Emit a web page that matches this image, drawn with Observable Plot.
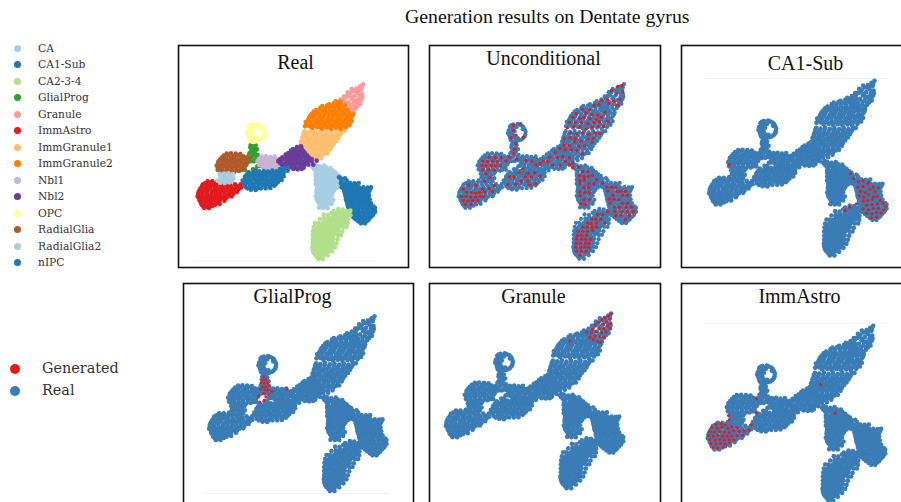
<!DOCTYPE html>
<html><head><meta charset="utf-8">
<script src="https://cdn.jsdelivr.net/npm/d3@7"></script>
<script src="https://cdn.jsdelivr.net/npm/@observablehq/plot@0.6"></script>
<style>
html,body{margin:0;padding:0;background:#fff}
#page{position:relative;width:901px;height:502px;overflow:hidden;background:#fff}
#page>div{position:absolute}
.panel svg{display:block;max-width:none}
.lg{font-family:"DejaVu Serif",serif;color:#333;white-space:nowrap}
.sw{position:absolute;border-radius:50%}
</style></head><body><div id="page"></div>
<script>
// Embedding coordinates, one array per cell type (x, y with y growing downward)
const Granule=[[594,121],[585,127],[574,134],[589,136],[566,141],[579,146],[591,150],[556,147],[569,155],[583,159],[546,157],[559,164],[573,169],[590,165],[538,165],[551,175],[565,180],[579,177],[533,176],[545,187],[558,192],[572,193],[529,189],[540,199],[553,204],[566,205],[527,200],[585,172],[590,130],[580,137],[560,135],[572,141],[548,145],[586,152],[562,160],[552,154],[578,168],[542,158],[566,170],[536,158],[526,167],[528,180],[592,158],[540,176],[558,184],[572,186],[586,180],[536,192],[546,196],[564,198],[578,186],[534,205],[546,209],[560,212]];
const ImmGranule2=[[492,181],[506,178],[519,176],[466,191],[480,193],[494,190],[509,192],[522,187],[446,203],[459,205],[473,202],[487,206],[501,203],[515,205],[530,200],[435,216],[449,214],[463,218],[477,215],[490,219],[505,216],[518,218],[533,213],[546,214],[429,228],[443,226],[456,230],[471,227],[484,231],[498,228],[512,231],[526,227],[541,226],[555,224],[425,240],[438,241],[453,238],[466,243],[481,240],[494,243],[509,239],[523,242],[536,238],[551,238],[441,252],[456,250],[470,254],[484,251],[498,255],[513,252],[527,255],[543,250],[560,232],[512,172],[526,173],[472,186],[486,185],[500,187],[513,185],[527,182],[540,184],[453,198],[466,197],[480,199],[494,197],[508,198],[522,197],[536,195],[548,198],[440,210],[452,209],[466,211],[480,209],[494,211],[508,210],[522,211],[538,208],[552,207],[564,212],[432,222],[446,220],[460,223],[474,221],[488,224],[502,222],[516,224],[530,221],[546,220],[560,218],[422,234],[436,233],[450,235],[464,233],[478,236],[492,234],[506,236],[520,234],[534,233],[548,232],[420,247],[432,246],[448,245],[462,248],[476,246],[490,248],[504,246],[518,248],[532,246],[546,244],[554,243]];
const ImmGranule1=[[419,262],[432,264],[446,261],[460,265],[474,263],[488,266],[502,263],[516,266],[530,262],[415,275],[428,273],[442,277],[456,274],[470,278],[484,275],[498,278],[512,275],[524,274],[412,287],[426,289],[440,286],[454,290],[468,287],[482,290],[496,287],[510,289],[410,300],[424,298],[438,302],[452,299],[466,302],[480,299],[494,302],[506,299],[408,311],[421,313],[435,310],[449,314],[463,311],[477,314],[491,311],[413,323],[427,325],[441,322],[455,326],[469,323],[483,324],[427,336],[441,335],[456,338],[470,335],[416,268],[430,270],[444,268],[458,270],[472,269],[486,270],[500,269],[514,270],[528,268],[538,262],[412,281],[424,280],[436,282],[450,281],[464,283],[478,281],[492,283],[506,281],[520,282],[408,293],[418,294],[432,293],[446,295],[460,293],[474,295],[488,293],[502,295],[514,291],[404,305],[416,306],[430,305],[444,307],[458,305],[472,307],[486,305],[500,307],[402,317],[414,318],[428,317],[442,318],[456,319],[470,317],[484,318],[496,316],[398,330],[412,330],[434,330],[448,331],[462,332],[478,330],[488,328],[440,343],[452,344],[468,343]];
const Nbl2=[[396,309],[408,307],[378,320],[390,322],[403,320],[416,322],[362,332],[374,334],[387,332],[400,335],[413,332],[426,334],[344,346],[357,344],[370,347],[383,345],[396,348],[409,345],[422,348],[434,346],[346,358],[359,360],[372,357],[385,360],[398,357],[411,360],[424,358],[378,370],[391,372],[404,369],[416,371],[384,315],[396,316],[410,314],[370,327],[382,327],[395,328],[408,327],[420,328],[352,340],[366,340],[379,339],[392,341],[405,340],[418,340],[431,340],[340,352],[350,351],[364,353],[377,352],[390,354],[403,352],[416,354],[429,352],[440,352],[352,364],[365,365],[378,364],[391,365],[404,364],[417,365],[385,375],[398,376],[410,375],[430,362],[445,362],[440,345],[455,350]];
const Nbl1=[[283,344],[296,342],[309,346],[322,344],[333,347],[288,357],[301,355],[314,358],[327,356],[338,360],[294,369],[307,371],[320,368],[333,370],[290,338],[303,337],[316,339],[329,338],[278,350],[291,350],[304,351],[317,351],[330,351],[342,352],[283,363],[296,363],[309,364],[322,362],[335,364],[348,364],[360,366],[300,375],[313,376],[326,375],[340,375],[355,376]];
const OPC=[[262,242],[275,240],[288,246],[296,257],[298,272],[291,284],[278,290],[265,294],[254,288],[250,275],[248,260],[252,248],[262,255],[260,270],[266,282],[272,250],[258,264],[276,283],[290,256],[256,244],[268,246],[281,243],[292,250],[299,264],[296,278],[285,288],[271,292],[258,292],[252,282],[246,268],[254,254],[266,262],[253,270],[262,276],[271,285],[258,248]];
const GlialProg=[[262,300],[256,310],[268,311],[258,322],[270,323],[263,334],[274,338],[253,345],[281,350],[247,356],[266,352],[277,367],[250,385],[264,376],[257,303],[272,304],[263,316],[276,316],[253,328],[266,328],[278,333],[248,338],[260,340],[270,348],[287,356],[240,350],[256,352],[272,376],[268,385],[240,378],[284,366]];
const RadialGlia=[[176,335],[191,333],[206,336],[221,334],[235,337],[165,347],[178,346],[192,349],[206,346],[220,349],[234,346],[248,349],[160,359],[174,358],[188,361],[202,358],[216,361],[230,358],[244,362],[160,371],[172,373],[186,370],[200,373],[214,370],[228,373],[238,370],[166,383],[180,384],[194,382],[208,384],[222,381],[185,329],[198,328],[212,329],[226,330],[170,341],[184,341],[198,342],[212,341],[226,342],[240,341],[254,342],[160,353],[172,352],[185,354],[199,353],[213,354],[227,352],[241,355],[155,365],[167,365],[180,366],[194,365],[208,366],[222,365],[236,366],[158,377],[172,378],[186,377],[200,378],[214,377],[230,378]];
const RadialGlia2=[[171,394],[184,396],[197,393],[172,406],[186,405],[199,407],[166,416],[179,417],[193,415],[164,390],[177,389],[190,388],[204,390],[166,401],[179,401],[193,400],[205,403],[158,410],[172,411],[186,411],[200,412]];
const ImmAstro=[[120,418],[133,416],[146,420],[111,428],[124,430],[137,427],[150,431],[172,430],[186,427],[200,430],[214,427],[227,421],[103,440],[116,441],[129,438],[142,442],[155,439],[168,442],[181,439],[194,442],[207,440],[220,436],[100,452],[113,451],[126,454],[139,451],[152,454],[165,451],[178,454],[191,452],[204,450],[103,464],[116,463],[129,466],[142,463],[155,466],[168,463],[181,464],[108,476],[121,475],[134,478],[147,475],[160,476],[115,487],[128,488],[142,486],[113,422],[127,423],[141,423],[155,424],[168,423],[182,422],[196,423],[210,421],[222,428],[106,434],[120,435],[134,433],[148,435],[162,434],[175,435],[188,434],[201,435],[214,434],[228,431],[100,446],[112,446],[126,447],[140,446],[153,447],[166,446],[179,447],[192,446],[205,445],[216,444],[98,458],[110,458],[123,459],[136,458],[149,459],[162,458],[175,459],[188,458],[200,457],[104,470],[112,470],[125,471],[138,470],[151,471],[164,470],[178,470],[110,482],[122,482],[136,482],[150,482],[164,480],[118,492],[132,492],[128,412],[142,412],[156,414]];
const nIPC=[[270,380],[283,382],[296,381],[309,383],[322,380],[335,382],[348,379],[245,392],[258,394],[271,391],[284,395],[297,392],[310,395],[323,392],[336,394],[350,391],[240,404],[253,406],[266,403],[279,407],[292,404],[305,407],[318,404],[331,406],[345,403],[235,416],[248,415],[261,418],[274,415],[287,418],[300,415],[313,418],[326,415],[339,414],[241,428],[254,429],[267,426],[280,430],[300,426],[315,428],[328,425],[258,437],[272,438],[252,386],[264,387],[277,386],[290,388],[303,387],[316,388],[329,387],[342,388],[356,386],[368,380],[240,398],[252,399],[265,398],[278,400],[291,398],[304,400],[317,398],[330,400],[343,398],[356,397],[233,410],[246,410],[259,411],[272,410],[285,411],[298,410],[311,411],[324,410],[337,409],[350,408],[240,422],[254,422],[267,421],[280,423],[293,422],[307,421],[320,422],[333,420],[247,433],[262,433],[275,434],[288,433],[302,433],[316,432],[345,375],[358,374],[368,372]];
const CA=[[440,366],[452,364],[465,367],[478,365],[450,378],[463,376],[476,379],[489,377],[502,380],[452,390],[465,392],[478,389],[491,392],[504,389],[517,392],[455,402],[468,404],[481,401],[494,404],[507,401],[520,403],[455,414],[468,413],[481,416],[494,413],[507,416],[520,413],[456,426],[469,428],[482,425],[495,428],[508,425],[521,428],[455,438],[468,437],[481,440],[494,437],[507,439],[457,450],[470,452],[483,449],[496,451],[455,462],[468,461],[481,464],[494,461],[460,474],[473,476],[486,473],[499,475],[470,486],[482,487],[444,372],[458,371],[471,372],[484,371],[497,372],[455,384],[470,384],[483,384],[496,384],[510,385],[452,396],[460,397],[472,397],[485,397],[498,396],[511,397],[524,396],[452,408],[462,408],[475,409],[488,408],[501,409],[514,408],[527,408],[452,420],[462,420],[475,421],[488,420],[501,421],[514,420],[527,420],[456,432],[462,432],[475,433],[488,432],[501,433],[514,432],[454,444],[464,444],[477,445],[490,444],[503,445],[452,456],[464,456],[477,457],[490,456],[500,456],[456,468],[466,468],[479,469],[492,468],[505,468],[464,480],[476,480],[489,481],[500,480],[462,491],[475,492],[488,492]];
const CA1Sub=[[522,400],[530,412],[545,410],[536,424],[549,423],[562,425],[575,422],[537,436],[550,437],[563,435],[576,438],[589,435],[602,437],[615,436],[540,448],[553,449],[566,447],[579,450],[592,447],[605,449],[543,460],[556,461],[569,459],[582,462],[595,459],[608,461],[545,472],[558,473],[571,471],[584,474],[597,471],[610,473],[548,484],[561,485],[574,483],[587,486],[600,483],[613,485],[626,488],[555,496],[568,497],[581,495],[594,498],[607,495],[620,497],[628,500],[560,508],[573,509],[586,507],[599,510],[612,507],[625,509],[565,520],[578,521],[591,519],[604,522],[617,520],[580,532],[593,534],[606,531],[528,404],[540,403],[528,418],[541,418],[555,417],[568,418],[581,417],[530,430],[543,430],[556,431],[569,430],[582,430],[595,430],[608,431],[618,430],[538,442],[547,443],[560,442],[573,443],[586,442],[599,443],[612,442],[541,454],[549,455],[562,454],[575,455],[588,454],[601,455],[612,454],[543,466],[551,466],[564,466],[577,467],[590,466],[603,467],[614,466],[548,478],[554,478],[567,478],[580,479],[593,478],[606,479],[618,478],[550,490],[564,490],[577,491],[590,490],[603,491],[616,490],[630,492],[556,502],[566,502],[579,503],[592,502],[605,503],[618,502],[630,504],[562,514],[571,514],[584,515],[597,514],[610,515],[623,514],[572,526],[585,527],[598,526],[611,527],[588,538],[600,538]];
const CA234=[[520,495],[533,497],[500,507],[513,509],[526,506],[539,509],[552,507],[490,519],[503,521],[516,518],[529,521],[542,519],[478,531],[491,533],[504,530],[517,533],[530,530],[543,532],[462,543],[475,545],[488,542],[501,545],[514,542],[527,544],[452,555],[465,557],[478,554],[491,557],[504,554],[517,556],[448,567],[461,569],[474,566],[487,569],[500,566],[513,568],[448,579],[461,578],[474,581],[487,578],[500,580],[446,591],[459,593],[472,590],[485,593],[498,590],[445,603],[458,602],[471,605],[484,602],[497,604],[443,615],[456,617],[469,614],[482,617],[494,614],[446,627],[459,629],[472,626],[485,628],[456,639],[468,640],[506,501],[519,501],[532,502],[545,501],[556,500],[476,512],[489,513],[507,514],[520,513],[533,514],[546,513],[556,514],[465,525],[478,524],[484,526],[497,526],[510,525],[523,526],[536,525],[549,526],[450,537],[460,537],[472,538],[485,537],[498,538],[511,537],[524,538],[537,537],[548,538],[446,549],[458,549],[470,550],[483,549],[496,550],[509,549],[522,550],[535,549],[545,549],[444,561],[455,562],[468,561],[481,562],[494,561],[507,562],[520,561],[532,562],[443,573],[454,573],[467,574],[480,573],[493,574],[506,573],[519,574],[528,573],[443,585],[453,585],[466,586],[479,585],[492,586],[505,585],[518,586],[443,597],[452,597],[465,598],[478,597],[491,598],[503,597],[514,598],[442,609],[451,609],[464,610],[477,609],[490,610],[503,609],[510,610],[444,621],[452,622],[465,621],[478,622],[491,621],[501,622],[450,633],[463,634],[476,633],[488,634],[460,645],[474,645]];
// Generated cells drawn over the real ones, panel by panel
const genUnconditional=[[588,126],[575,128],[590,144],[571,150],[556,140],[582,166],[562,172],[545,168],[528,170],[574,184],[548,180],[520,182],[505,185],[490,198],[470,196],[450,210],[462,224],[480,208],[498,212],[515,214],[537,205],[526,220],[510,226],[492,224],[474,221],[440,220],[430,236],[448,236],[468,236],[486,240],[503,236],[520,234],[545,232],[533,248],[516,247],[498,250],[480,256],[462,250],[444,248],[424,252],[434,268],[452,270],[470,268],[490,272],[508,268],[522,268],[416,285],[432,282],[448,284],[465,292],[486,285],[503,284],[414,304],[430,306],[445,294],[458,308],[476,306],[498,296],[418,318],[436,318],[452,320],[470,330],[402,314],[388,326],[372,340],[395,342],[410,338],[430,342],[352,352],[366,354],[380,364],[402,364],[418,352],[430,364],[440,358],[342,360],[300,350],[318,352],[330,364],[290,376],[306,388],[326,387],[343,397],[316,400],[298,399],[280,386],[264,400],[250,399],[286,412],[306,412],[330,420],[270,422],[246,422],[310,424],[262,246],[284,240],[262,260],[270,274],[256,282],[292,280],[270,300],[265,316],[264,330],[250,340],[272,346],[240,352],[225,342],[208,342],[190,340],[170,352],[184,354],[200,352],[214,354],[168,365],[180,366],[196,366],[208,366],[224,366],[170,378],[188,378],[205,379],[180,390],[192,402],[176,412],[205,425],[190,434],[170,436],[150,425],[128,424],[112,436],[122,446],[136,446],[148,448],[160,446],[106,458],[120,458],[134,460],[148,460],[162,458],[176,446],[200,444],[112,470],[126,472],[140,470],[155,470],[172,458],[118,482],[135,482],[440,372],[458,370],[470,384],[486,384],[500,395],[460,396],[474,398],[488,398],[512,408],[462,410],[476,408],[490,420],[504,420],[462,420],[474,432],[488,432],[462,444],[476,446],[490,446],[462,456],[474,468],[490,468],[465,480],[478,482],[530,418],[542,430],[556,430],[570,430],[584,442],[598,442],[546,442],[560,454],[574,444],[590,454],[604,455],[550,466],[564,466],[578,468],[590,478],[604,478],[552,478],[566,490],[580,490],[600,490],[616,490],[622,504],[604,504],[588,502],[566,503],[570,515],[585,515],[610,515],[598,528],[515,512],[530,512],[545,503],[498,526],[510,526],[524,526],[536,538],[484,538],[496,540],[510,538],[470,550],[484,550],[498,550],[512,550],[456,562],[470,562],[484,562],[500,560],[454,575],[468,574],[482,574],[494,586],[452,586],[466,586],[480,586],[450,598],[464,598],[478,598],[490,598],[450,610],[464,610],[476,610],[488,610],[452,622],[466,622],[480,622],[462,634]];
const genCA1Sub=[[522,399],[532,414],[546,424],[560,420],[576,426],[544,440],[560,438],[574,430],[590,440],[606,442],[552,452],[566,456],[580,446],[596,454],[548,466],[562,470],[576,462],[590,468],[560,482],[574,480],[588,476],[602,468],[612,480],[570,494],[586,492],[602,490],[620,488],[628,498],[560,505],[576,508],[590,504],[606,504],[622,508],[570,518],[586,520],[600,516],[614,518],[585,532],[600,530],[506,510],[520,500],[540,490],[158,372]];
const genGlialProg=[[262,302],[258,312],[268,312],[254,320],[264,322],[274,320],[258,332],[268,332],[278,328],[252,340],[264,342],[274,342],[286,346],[246,360],[262,352],[268,362],[276,356],[250,378],[264,372],[332,338]];
const genGranule=[[592,122],[586,128],[576,134],[590,138],[566,140],[580,146],[592,152],[556,148],[570,152],[584,158],[546,154],[558,166],[572,166],[590,166],[538,168],[550,176],[566,178],[578,176],[534,178],[546,188],[560,190],[572,192],[530,192],[540,200],[554,204],[520,176],[562,208],[470,204]];
const genImmAstro=[[122,416],[138,414],[150,418],[110,426],[126,428],[140,424],[158,428],[170,424],[186,426],[104,438],[118,440],[134,438],[148,440],[162,442],[176,436],[192,438],[206,436],[222,434],[228,418],[100,450],[114,452],[128,450],[142,452],[156,452],[170,452],[186,450],[202,450],[104,462],[120,464],[134,462],[148,464],[162,462],[176,464],[108,474],[122,476],[136,474],[150,476],[164,472],[114,486],[128,488],[144,484],[162,404],[160,390],[244,382],[243,340],[480,383],[436,297]];

const categories=["CA","CA1-Sub","CA2-3-4","GlialProg","Granule","ImmAstro","ImmGranule1","ImmGranule2","Nbl1","Nbl2","OPC","RadialGlia","RadialGlia2","nIPC"];
const clusters=[CA,CA1Sub,CA234,GlialProg,Granule,ImmAstro,ImmGranule1,ImmGranule2,Nbl1,Nbl2,OPC,RadialGlia,RadialGlia2,nIPC];
const paired=["#a6cee3","#1f78b4","#b2df8a","#33a02c","#fb9a99","#e31a1c","#fdbf6f","#ff7f00","#cab2d6","#6a3d9a","#ffff99","#b15928","#a6cee3","#1f78b4"];
const legendNames=["Generated","Real"];
const legendColors=["#e41a1c","#377eb8"];
const REAL="#3a7cb6", GEN="#e41a1c";

const allCells=categories.flatMap((c,i)=>clusters[i].map(([x,y])=>({x,y,c})));
const toRows=a=>a.map(([x,y])=>({x,y}));
const page=document.getElementById("page");

function panel(o){
  const {title,L,T,W,H,ox,oy,tx,ty,marks,spine}=o;
  const plot=Plot.plot({
    width:W,height:H,margin:0,
    x:{axis:null,domain:[(L-ox)*3,(L+W-ox)*3],range:[0,W]},
    y:{axis:null,domain:[(T-oy)*3,(T+H-oy)*3],range:[0,H]},
    color:{domain:categories,range:paired},
    style:{background:"transparent",overflow:"visible"},
    marks:[
      ...(spine?[Plot.ruleY([spine],{x1:85,x2:638,stroke:"#f2f2f2"})]:[]),
      ...marks,
      Plot.text([title],{frameAnchor:"top-left",dx:tx-L,dy:ty-T,textAnchor:"middle",lineAnchor:"middle",fontFamily:"Liberation Serif",fontSize:20,fill:"#111"}),
      Plot.frame({stroke:"#111",strokeWidth:1.6,inset:1})
    ]
  });
  const d=document.createElement("div");
  d.className="panel";
  d.style.cssText=`left:${L}px;top:${T}px;width:${W}px;height:${H}px`;
  d.appendChild(plot);
  page.appendChild(d);
}
const base=r=>Plot.dot(allCells,{x:"x",y:"y",r,fill:REAL,stroke:"none"});
const gen=(a,r)=>Plot.dot(toRows(a),{x:"x",y:"y",r,fill:GEN,stroke:"none"});

panel({title:"Real",L:177,T:44,W:232,H:224,ox:164.5,oy:43.5,tx:295,ty:62,spine:651,
  marks:[Plot.dot(allCells,{x:"x",y:"y",r:2.3,fill:"c",stroke:"none"})]});
panel({title:"Unconditional",L:428,T:44,W:233,H:224,ox:425.5,oy:43.3,tx:543,ty:58,
  marks:[base(2.1),gen(genUnconditional,1.7)]});
panel({title:"CA1-Sub",L:680,T:44,W:234,H:224,ox:676,oy:40,tx:805,ty:63,spine:114,
  marks:[base(2.3),gen(genCA1Sub,1.6)]});
panel({title:"GlialProg",L:182,T:282,W:232,H:226,ox:176,oy:275.5,tx:292,ty:296,spine:652,
  marks:[base(2.3),gen(genGlialProg,1.5)]});
panel({title:"Granule",L:428,T:282,W:233,H:226,ox:412.7,oy:272.7,tx:533,ty:296,
  marks:[base(2.3),gen(genGranule,1.5)]});
panel({title:"ImmAstro",L:680,T:282,W:234,H:226,ox:674.7,oy:285,tx:799,ty:296,spine:113,
  marks:[base(2.3),gen(genImmAstro,1.6)]});

const t=document.createElement("div");
t.textContent="Generation results on Dentate gyrus";
t.style.cssText='left:405px;top:5px;font:19.8px "Liberation Serif",serif;color:#111;white-space:nowrap';
page.appendChild(t);

function legend(names,colors,sx,lx,y0,dy,r,fs){
  names.forEach((n,i)=>{
    const y=y0+i*dy;
    const s=document.createElement("div");s.className="sw";
    s.style.cssText=`left:${sx-r}px;top:${y-r}px;width:${2*r}px;height:${2*r}px;background:${colors[i]}`;
    page.appendChild(s);
    const l=document.createElement("div");l.className="lg";l.textContent=n;
    l.style.cssText=`left:${lx}px;top:${y-fs*0.62}px;font-size:${fs}px;line-height:${fs*1.24}px`;
    page.appendChild(l);
  });
}
legend(categories,paired,17.7,38,48.3,16.5,3.7,10.7);
legend(legendNames,legendColors,14.7,42,369,22,5,14.4);
</script></body></html>
